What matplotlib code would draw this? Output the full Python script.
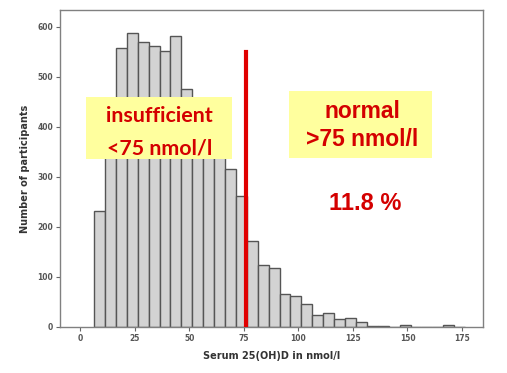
import numpy as np
import matplotlib
matplotlib.use('Agg')
from matplotlib import pyplot as plt
from matplotlib.patches import Rectangle

# histogram of serum 25(OH)D, bins of 5 nmol/l
bin_start = 6.4
bin_width = 5
counts = [233, 430, 559, 589, 571, 562, 552, 583, 476, 440, 400, 360,
          316, 263, 172, 124, 119, 67, 63, 46, 24, 29, 16, 19, 11,
          3, 2, 1, 4, 1, 1, 1, 4, 1]
cutoff = 76
cutoff_top = 550
xticks = [0, 25, 50, 75, 100, 125, 150, 175]
yticks = [0, 100, 200, 300, 400, 500, 600]

W, H = 507, 373
fig = plt.figure(figsize=(W / 100, H / 100), dpi=100)
ax = fig.add_axes([60 / W, 1 - 327 / H, 423 / W, 317 / H])

edges = bin_start + bin_width * np.arange(len(counts))
ax.bar(edges, counts, width=bin_width, align='edge', color='#d3d3d3',
       edgecolor='#555555', linewidth=1.0, zorder=2)
ax.plot([cutoff, cutoff], [0, cutoff_top], color='#e00000', lw=3, zorder=3)

ax.set_xlim(-9.2, 184.6)
ax.set_ylim(0, 634)
ax.set_xticks(xticks)
ax.set_yticks(yticks)
ax.tick_params(length=3, width=0.8, color='#666666', labelsize=5.5,
               labelcolor='#555555', pad=2)
for lab in ax.get_xticklabels() + ax.get_yticklabels():
    lab.set_fontweight('bold')
for s in ax.spines.values():
    s.set_color('#808080')
    s.set_linewidth(1.0)

ax.set_xlabel('Serum 25(OH)D in nmol/l', fontsize=7, fontweight='bold',
              color='#333333', labelpad=6)
ax.set_ylabel('Number of participants', fontsize=7, fontweight='bold',
              color='#333333', labelpad=5)


def px(x, y):
    return x / W, 1 - y / H


red = '#d40000'
yellow = '#ffff9e'
# insufficient box
x0, y0 = px(86, 159)
fig.patches.append(Rectangle((x0, y0), 146 / W, 62 / H, transform=fig.transFigure,
                             facecolor=yellow, edgecolor='none', zorder=5))
fig.text(*px(159, 116), 'insufficient', family='Lato', fontweight='bold',
         fontsize=15.4, color=red, ha='center', va='center', zorder=6)
fig.text(*px(160, 148), '<75 nmol/l', family='Lato', fontweight='bold',
         fontsize=15.4, color=red, ha='center', va='center', zorder=6)

# normal box
x0, y0 = px(289, 158)
fig.patches.append(Rectangle((x0, y0), 143 / W, 67 / H, transform=fig.transFigure,
                             facecolor=yellow, edgecolor='none', zorder=5))
fig.text(*px(362, 111), 'normal', family='Liberation Sans', fontweight='bold',
         fontsize=16.5, color=red, ha='center', va='center', zorder=6)
fig.text(*px(362, 140), '>75 nmol/l', family='Liberation Sans', fontweight='bold',
         fontsize=16.5, color=red, ha='center', va='center', zorder=6)

fig.text(*px(365, 203), '11.8 %', family='Liberation Sans', fontweight='bold',
         fontsize=17, color=red, ha='center', va='center', zorder=6)

fig.savefig('out.png', dpi=100)
